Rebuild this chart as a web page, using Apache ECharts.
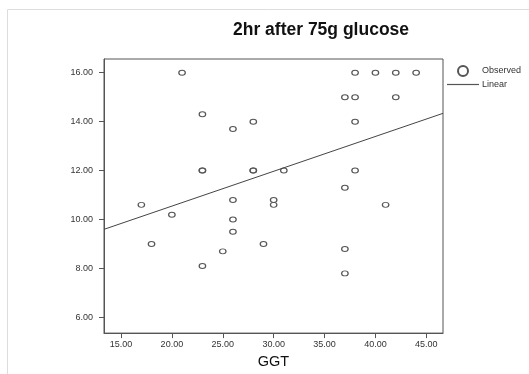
<!DOCTYPE html>
<html>
<head>
<meta charset="utf-8">
<script src="https://cdn.jsdelivr.net/npm/echarts@6/dist/echarts.min.js"></script>
<style>
html,body{margin:0;padding:0;background:#fff;}
#chart{width:529px;height:374px;}
</style>
</head>
<body>
<div id="chart"></div>
<script>
// Observed points (GGT vs 2hr glucose)
const ggt = [21,23,26,28,23,23,28,28,38,40,42,44,37,38,42,38,31,38,37,17,20,26,30,30,26,26,18,25,29,23,41,37,37];
const glucose = [16,14.3,13.7,14,12,12,12,12,16,16,16,16,15,15,15,14,12,12,11.3,10.6,10.2,10.8,10.8,10.6,10,9.5,9,8.7,9,8.1,10.6,8.8,7.8];
// Linear fit endpoints
const linearX = [13.33, 46.64];
const linearY = [9.6, 14.34];
// Tick labels
const xTicks = [15,20,25,30,35,40,45];
const yTicks = [6,8,10,12,14,16];

const FONT = "'Liberation Sans', Arial, sans-serif";
const chart = echarts.init(document.getElementById('chart'), null, {renderer:'canvas'});
const ellipse = 'path://M0,5a5,5 0 1,0 10,0a5,5 0 1,0 -10,0';

chart.setOption({
  animation:false,
  backgroundColor:'#fff',
  graphic:[{type:'rect', shape:{x:7.5,y:9.5,width:540,height:380}, style:{fill:'none', stroke:'#dddddd', lineWidth:1}, silent:true}],
  title:{
    text:'2hr after 75g glucose',
    left:228, top:16,
    textStyle:{fontFamily:FONT, fontSize:17.5, fontWeight:'bold', color:'#111'}
  },
  legend:{
    orient:'vertical', left:447, top:65, padding:0,
    itemWidth:32, itemHeight:10, itemGap:3,
    textStyle:{fontFamily:FONT, fontSize:9, color:'#333', padding:[0,0,0,-2]},
    data:[
      {name:'Observed', icon:'circle'},
      {name:'Linear', icon:'path://M0,0L32,0L32,1.2L0,1.2Z', itemStyle:{color:'#555'}}
    ]
  },
  grid:{left:104, top:59, right:86, bottom:31, show:true, borderColor:'#555', borderWidth:1, backgroundColor:'transparent'},
  xAxis:{
    type:'value', min:linearX[0], max:linearX[1],
    name:'GGT', nameLocation:'middle', nameGap:19,
    nameTextStyle:{fontFamily:FONT, fontSize:14.5, color:'#111'},
    axisLine:{show:true, lineStyle:{color:'#555', width:1}},
    axisTick:{show:true, length:5, lineStyle:{color:'#555'}, customValues:xTicks},
    axisLabel:{fontFamily:FONT, fontSize:9, color:'#333', margin:7, customValues:xTicks, formatter:v=>v.toFixed(2)},
    splitLine:{show:false}
  },
  yAxis:{
    type:'value', min:5.36, max:16.56,
    axisLine:{show:true, lineStyle:{color:'#555', width:1}},
    axisTick:{show:true, length:5, lineStyle:{color:'#555'}, customValues:yTicks},
    axisLabel:{fontFamily:FONT, fontSize:9, color:'#333', margin:11, customValues:yTicks, formatter:v=>v.toFixed(2)},
    splitLine:{show:false}
  },
  series:[
    {
      name:'Observed', type:'scatter',
      symbol:ellipse, symbolSize:[6.5,5],
      itemStyle:{color:'rgba(255,255,255,0)', borderColor:'#555', borderWidth:1.1, opacity:1},
      data:ggt.map((x,i)=>[x, glucose[i]])
    },
    {
      name:'Linear', type:'line', symbol:'none', showSymbol:false,
      lineStyle:{color:'#444', width:1},
      itemStyle:{color:'#444'},
      data:linearX.map((x,i)=>[x, linearY[i]])
    }
  ]
});
</script>
</body>
</html>
